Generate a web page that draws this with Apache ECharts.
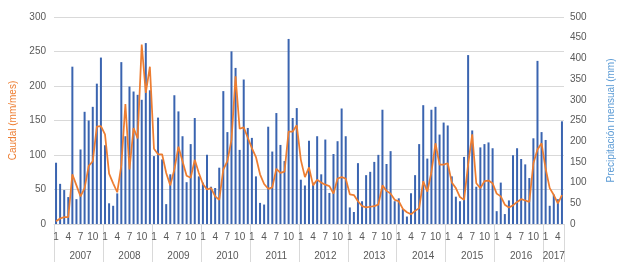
<!DOCTYPE html>
<html>
<head>
<meta charset="utf-8">
<script src="https://cdn.jsdelivr.net/npm/echarts@6/dist/echarts.min.js"></script>
<style>
  html, body { margin: 0; padding: 0; background: #fff; }
  #chart { width: 624px; height: 271px; }
</style>
</head>
<body>
<div id="chart"></div>
<script>
// anos y meses (ene 2007 - may 2017)
var years = ["2007", "2008", "2009", "2010", "2011", "2012", "2013", "2014", "2015", "2016", "2017"];
var monthsPerYear = [12, 12, 12, 12, 12, 12, 12, 12, 12, 12, 5];

// precipitacion mensual (mm) - eje derecho
var precip = [
  148, 97, 82, 65, 380, 60, 180, 271, 250, 283, 339, 402,
  190, 50, 44, 74, 391, 212, 332, 320, 312, 300, 437, 323,
  164, 257, 156, 48, 120, 311, 272, 212, 101, 193, 256, 115,
  100, 167, 90, 87, 136, 321, 222, 417, 377, 179, 349, 232,
  208, 115, 51, 47, 235, 175, 268, 191, 152, 447, 256, 280,
  107, 93, 201, 100, 212, 120, 204, 75, 169, 200, 279, 212,
  40, 29, 147, 55, 118, 126, 150, 167, 276, 145, 176, 55,
  62, 36, 18, 74, 118, 193, 287, 158, 276, 283, 216, 245,
  238, 115, 66, 55, 162, 408, 226, 90, 185, 193, 197, 183,
  31, 100, 24, 57, 166, 183, 157, 144, 111, 207, 394, 222,
  203, 44, 71, 60, 248
];

// caudal (mm/mes) - eje izquierdo
var caudal = [
  4, 8, 10, 10, 72, 56, 40, 52, 84, 91, 141, 142,
  130, 73, 59, 46, 85, 174, 79, 139, 124, 260, 190, 228,
  109, 101, 101, 74, 56, 79, 112, 91, 70, 67, 93, 74,
  58, 50, 52, 40, 35, 79, 91, 122, 214, 138, 140, 125,
  110, 97, 72, 58, 51, 53, 80, 74, 76, 134, 134, 143,
  93, 68, 82, 56, 64, 60, 57, 55, 44, 66, 68, 66,
  43, 42, 33, 26, 24, 25, 26, 28, 56, 48, 44, 35,
  33, 22, 17, 14, 19, 23, 62, 47, 75, 117, 86, 86,
  88, 60, 52, 39, 35, 86, 130, 59, 52, 62, 63, 59,
  44, 40, 28, 24, 27, 32, 36, 34, 32, 88, 108, 117,
  80, 52, 42, 30, 42
];

var leftTicks = [0, 50, 300];   // min, intervalo, max
var rightTicks = [0, 50, 500];

// categorias "2007-1" ... y donde va la etiqueta de cada ano
var categories = [];
var yearLabelAt = {};
years.forEach(function (y, k) {
  var n = monthsPerYear[k];
  yearLabelAt[categories.length + Math.floor(n / 2)] = y;
  for (var m = 1; m <= n; m++) categories.push(y + "-" + m);
});

var font = "Liberation Sans";
var myChart = echarts.init(document.getElementById("chart"));
var option = {
  animation: false,
  grid: { left: 51, right: 45, top: 17, bottom: 47 },
  xAxis: [
    {
      type: "category",
      data: categories,
      axisLine: { lineStyle: { color: "#d9d9d9" } },
      axisTick: { show: false },
      axisLabel: {
        interval: 2,
        margin: 8,
        fontSize: 10,
        fontFamily: font,
        color: "#595959",
        formatter: function (v) { return v.split("-")[1]; }
      }
    },
    {
      type: "category",
      data: categories,
      position: "bottom",
      axisLine: { show: false },
      axisTick: {
        show: true,
        length: 38,
        interval: function (i) { return i % 12 === 0; },
        lineStyle: { color: "#d9d9d9" }
      },
      axisLabel: {
        margin: 27,
        fontSize: 10,
        fontFamily: font,
        color: "#595959",
        interval: function (i) { return yearLabelAt[i] !== undefined; },
        formatter: function (v, i) { return yearLabelAt[i] || ""; }
      }
    }
  ],
  yAxis: [
    {
      type: "value",
      min: leftTicks[0],
      interval: leftTicks[1],
      max: leftTicks[2],
      name: "Caudal (mm/mes)",
      nameLocation: "middle",
      nameGap: 36,
      nameTextStyle: { color: "#ed7d31", fontSize: 10, fontFamily: font },
      axisLine: { show: false },
      axisTick: { show: false },
      axisLabel: { fontSize: 10, fontFamily: font, color: "#595959", margin: 8 },
      splitLine: { lineStyle: { color: "#d9d9d9" } }
    },
    {
      type: "value",
      min: rightTicks[0],
      interval: rightTicks[1],
      max: rightTicks[2],
      name: "Precipitación mensual (mm)",
      nameLocation: "middle",
      nameGap: 42,
      nameTextStyle: { color: "#5b9bd5", fontSize: 10, fontFamily: font },
      axisLine: { show: false },
      axisTick: { show: false },
      axisLabel: { fontSize: 10, fontFamily: font, color: "#595959", margin: 6 },
      splitLine: { show: false }
    }
  ],
  series: [
    {
      name: "Precipitación mensual",
      type: "bar",
      yAxisIndex: 1,
      barWidth: 2,
      itemStyle: { color: "#3a64b0" },
      data: precip
    },
    {
      name: "Caudal",
      type: "line",
      yAxisIndex: 0,
      showSymbol: false,
      lineStyle: { color: "#ed7d31", width: 1.75 },
      itemStyle: { color: "#ed7d31" },
      data: caudal
    }
  ]
};
myChart.setOption(option, true);
</script>
</body>
</html>
